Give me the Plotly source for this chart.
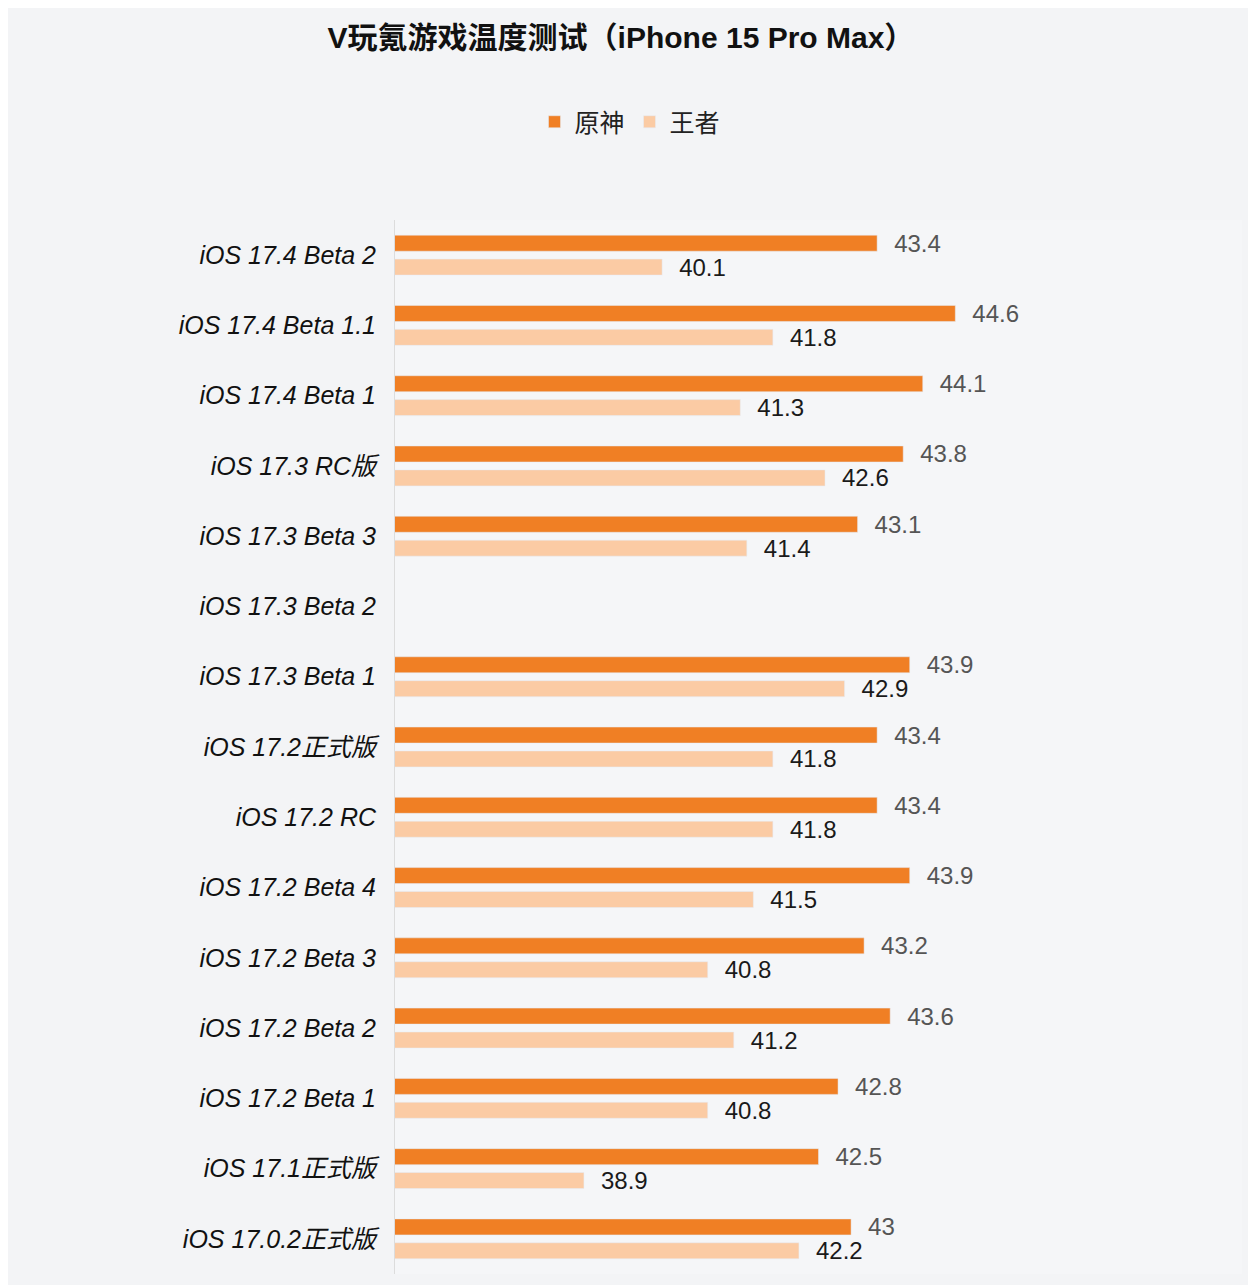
import plotly.graph_objects as go

versions = ["iOS 17.4 Beta 2", "iOS 17.4 Beta 1.1", "iOS 17.4 Beta 1", "iOS 17.3 RC版",
            "iOS 17.3 Beta 3", "iOS 17.3 Beta 2", "iOS 17.3 Beta 1", "iOS 17.2正式版",
            "iOS 17.2 RC", "iOS 17.2 Beta 4", "iOS 17.2 Beta 3", "iOS 17.2 Beta 2",
            "iOS 17.2 Beta 1", "iOS 17.1正式版", "iOS 17.0.2正式版"]
yuanshen = [43.4, 44.6, 44.1, 43.8, 43.1, None, 43.9, 43.4, 43.4, 43.9, 43.2, 43.6, 42.8, 42.5, 43]
wangzhe = [40.1, 41.8, 41.3, 42.6, 41.4, None, 42.9, 41.8, 41.8, 41.5, 40.8, 41.2, 40.8, 38.9, 42.2]

font = "Liberation Sans, Noto Sans CJK SC, sans-serif"
pad = "\u2002\u200a"

# page body has an 8px margin, so the figure is drawn 8px smaller and shifted
fig = go.Figure()
fig.add_trace(go.Bar(
    name="原神", y=versions, x=yuanshen, orientation="h",
    marker_color="#F07F24",
    text=[pad + ("" if v is None else f"{v:g}") for v in yuanshen],
    textposition="outside", cliponaxis=False, constraintext="none",
    textfont=dict(size=24, color="#555555", family=font),
))
fig.add_trace(go.Bar(
    name="王者", y=versions, x=wangzhe, orientation="h",
    marker_color="#FBCBA4",
    text=[pad + ("" if v is None else f"{v:g}") for v in wangzhe],
    textposition="outside", cliponaxis=False, constraintext="none",
    textfont=dict(size=24, color="#1a1a1a", family=font),
))

fig.update_layout(
    width=1248, height=1277,
    paper_bgcolor="#f3f4f6", plot_bgcolor="#f5f6f8",
    margin=dict(l=387, r=14, t=212, b=11),
    barmode="group", bargap=0.32, bargroupgap=0.33,
    title=dict(text="<b>V玩氪游戏温度测试（iPhone 15 Pro Max）</b>",
               xref="container", x=613 / 1248, xanchor="center",
               yref="container", y=1 - 29 / 1277, yanchor="middle",
               font=dict(size=30, color="#111111", family=font)),
    legend=dict(orientation="h", xref="container", x=622 / 1248, xanchor="center",
                yref="container", y=1 - 114 / 1277, yanchor="middle",
                font=dict(size=25, color="#222222", family=font),
                itemwidth=30, traceorder="normal", bgcolor="rgba(0,0,0,0)"),
)
fig.update_xaxes(range=[36, 49], showgrid=False, zeroline=False,
                 showticklabels=False, ticks="")
fig.update_yaxes(autorange="reversed", showline=True, linecolor="#dcdcdc", linewidth=1,
                 ticks="", ticklabelstandoff=13,
                 tickfont=dict(size=25, color="#111111", family=font, style="italic"))

fig.write_html("out.html")
